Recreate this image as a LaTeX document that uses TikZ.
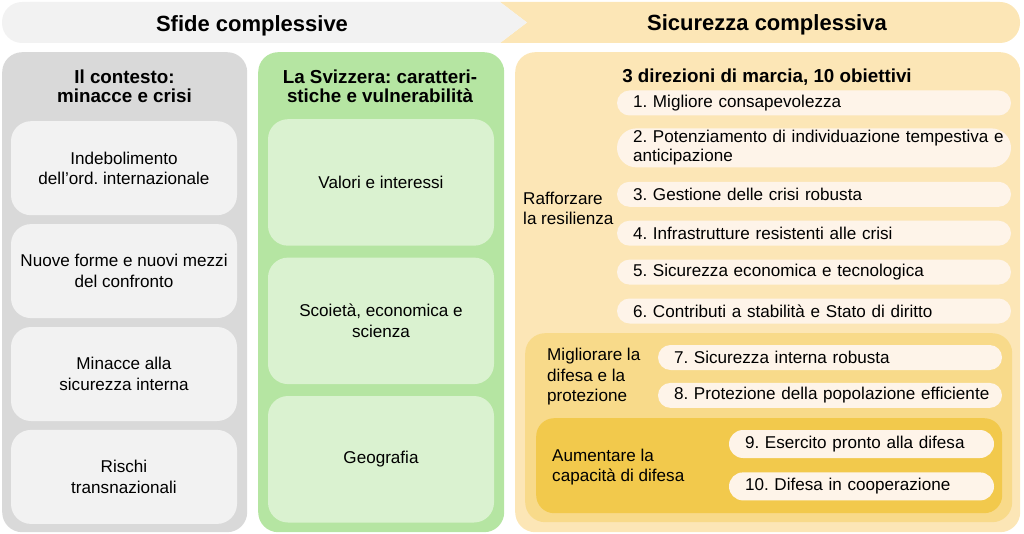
\documentclass[tikz,border=0pt]{standalone}
\usepackage{fontspec}
\setmainfont{Liberation Sans}
\usetikzlibrary{positioning}
\frenchspacing
\definecolor{bannerGray}{HTML}{F2F2F2}
\definecolor{panelGray}{HTML}{D9D9D9}
\definecolor{boxGray}{HTML}{F2F2F2}
\definecolor{greenPanel}{HTML}{B5E5A2}
\definecolor{greenBox}{HTML}{DAF2D0}
\definecolor{goalYellow}{HTML}{FCE6B6}
\definecolor{defYellow}{HTML}{F8DA8A}
\definecolor{capYellow}{HTML}{F2C94C}
\definecolor{pillColor}{HTML}{FEF4E9}
\newcommand\titlefont{\fontsize{22}{26}\selectfont\bfseries}
\newcommand\headfont{\fontsize{18.8}{19.5}\selectfont\bfseries}
\newcommand\bodyfont{\fontsize{17.1}{20.5}\selectfont}
\tikzset{panel/.style={anchor=north west,inner sep=0pt,rounded corners=20pt}}
\tikzset{headtext/.style={font=\headfont,align=center,inner sep=0pt}}
\tikzset{graybox/.style={fill=boxGray,rounded corners=20pt,minimum width=226pt,
    minimum height=94pt,inner sep=0pt,align=center,font=\bodyfont}}
\tikzset{greenbox/.style={graybox,fill=greenBox,minimum height=126.5pt}}
\tikzset{pill/.style={fill=pillColor,rounded corners=12.5pt,minimum height=25pt,
    inner xsep=16pt,inner ysep=0pt,align=left,font=\bodyfont}}
\tikzset{lanetext/.style={anchor=west,inner sep=0pt,align=left,font=\bodyfont}}

\begin{document}
\begin{tikzpicture}[x=1pt,y=1pt,node distance=8.5pt]
  \useasboundingbox (0,0) rectangle (1024,-534);
  % banner
  \fill[goalYellow,rounded corners=20pt] (960,-2) rectangle (1020,-43);
  \fill[goalYellow] (500,-2) -- (990,-2) -- (990,-43) -- (500,-43) -- (527,-22.5) -- cycle;
  \fill[bannerGray,rounded corners=20pt] (2,-2) rectangle (60,-43);
  \fill[bannerGray] (30,-2) -- (500,-2) -- (527,-22.5) -- (500,-43) -- (30,-43) -- cycle;
  \node(sfide)[font=\titlefont,anchor=base] at (252,-31.5) {Sfide complessive};
  \node(sicur)[font=\titlefont,anchor=base] at (767,-31) {Sicurezza complessiva};
  % panels
  \node(ctx)[panel,fill=panelGray,minimum width=245pt,minimum height=480pt] at (2,-52) {};
  \node(swiss)[panel,fill=greenPanel,minimum width=246pt,minimum height=480pt] at (258,-52) {};
  \node(goals)[panel,fill=goalYellow,minimum width=505pt,minimum height=480pt] at (515,-52) {};
  \node(ctxhead)[headtext] at (124.5,-86.5) {Il contesto:\\minacce e crisi};
  \node(swisshead)[headtext] at (380,-86.5) {La Svizzera: caratteri-\\stiche e vulnerabilità};
  \node(goalhead)[headtext,anchor=base] at (767,-83) {3 direzioni di marcia, 10 obiettivi};
  % context
  \node(c1)[graybox,anchor=north] at (124,-121) {Indebolimento\\dell'ord. internazionale};
  \node(c2)[graybox,below=of c1] {Nuove forme e nuovi mezzi\\del confronto};
  \node(c3)[graybox,below=of c2] {Minacce alla\\sicurezza interna};
  \node(c4)[graybox,below=of c3] {Rischi\\transnazionali};
  % switzerland
  \node(s1)[greenbox,anchor=north] at (381,-119) {Valori e interessi};
  \node(s2)[greenbox,below=11.5pt of s1] {Scoietà, economica e\\scienza};
  \node(s3)[greenbox,below=11.5pt of s2] {Geografia};
  % goals
  \node(defbox)[panel,fill=defYellow,minimum width=487pt,minimum height=189pt] at (525,-333) {};
  \node(capbox)[panel,fill=capYellow,rounded corners=18pt,minimum width=466pt,minimum height=95pt] at (536,-418) {};
  \node(o1)[pill,text width=362pt] at (814,-103) {1. Migliore consapevolezza};
  \node(o2)[pill,text width=362pt,rounded corners=19.5pt,minimum height=39pt,
    font=\fontsize{17.1}{19}\selectfont,below=12.5pt of o1]
    {\mbox{2. Potenziamento di individuazione tempestiva e}\\anticipazione};
  \node(o3)[pill,text width=362pt,below=14pt of o2] {3. Gestione delle crisi robusta};
  \node(o4)[pill,text width=362pt,below=13.5pt of o3] {4. Infrastrutture resistenti alle crisi};
  \node(o5)[pill,text width=362pt,below=13.5pt of o4] {5. Sicurezza economica e tecnologica};
  \node(o6)[pill,text width=362pt,below=13.5pt of o5] {6. Contributi a stabilità e Stato di diritto};
  \node(o7)[pill,text width=312pt] at (830,-357.5) {7. Sicurezza interna robusta};
  \node(o8)[pill,text width=312pt,below=12.5pt of o7] {\mbox{8. Protezione della popolazione efficiente}};
  \node(o9)[pill,text width=233pt,minimum height=28pt,rounded corners=14pt] at (861.5,-444) {9. Esercito pronto alla difesa};
  \node(o10)[pill,text width=233pt,minimum height=28pt,rounded corners=14pt,below=14pt of o9] {10. Difesa in cooperazione};
  \node(resil)[lanetext,font=\fontsize{17.1}{20}\selectfont] at (523,-208) {Rafforzare\\la resilienza};
  \node(defend)[lanetext] at (547,-377) {Migliorare la\\difesa e la\\protezione};
  \node(capab)[lanetext] at (552,-467) {Aumentare la\\capacità di difesa};
\end{tikzpicture}
\end{document}
